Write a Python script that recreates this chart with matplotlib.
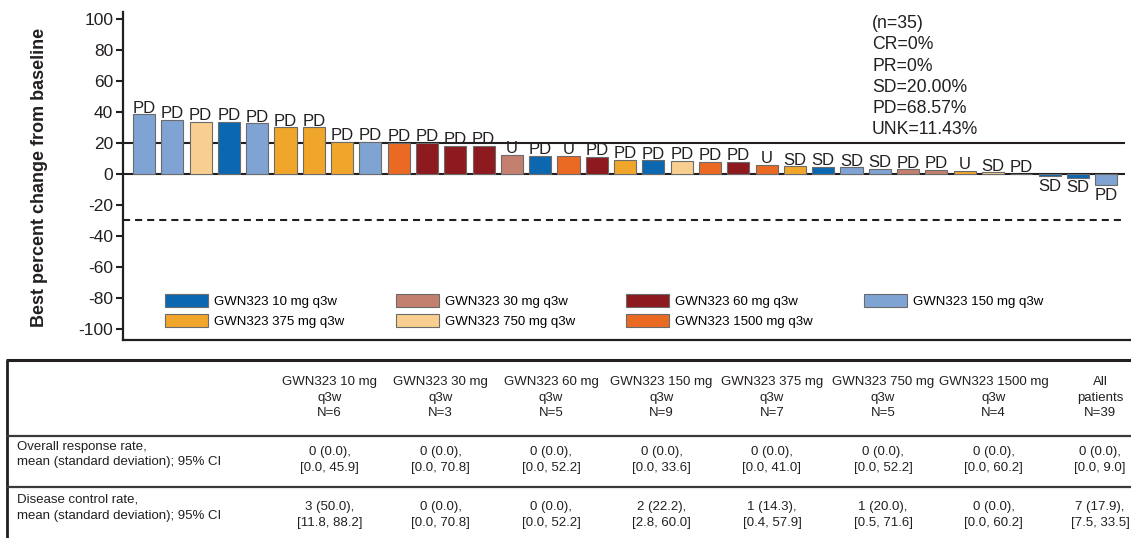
import matplotlib
matplotlib.use('Agg')
import matplotlib.pyplot as plt
from matplotlib.patches import Patch

plt.rcParams['font.family'] = ['Liberation Sans', 'DejaVu Sans']
plt.rcParams['axes.unicode_minus'] = False

# ---------------- data ----------------
dose_groups = ['GWN323 10 mg q3w', 'GWN323 30 mg q3w', 'GWN323 60 mg q3w',
               'GWN323 150 mg q3w', 'GWN323 375 mg q3w', 'GWN323 750 mg q3w',
               'GWN323 1500 mg q3w']
group_colors = ['#0a67b0', '#c4806f', '#8c1a1f', '#7fa4d4', '#f0a62a', '#f8cf90', '#ea6a24']

best_change = [38.3, 34.8, 33.4, 33.4, 32.5, 29.9, 29.9, 20.4, 20.4, 19.8,
               19.8, 17.9, 17.9, 12.1, 11.5, 11.5, 10.8, 8.8, 8.7, 8.4,
               7.7, 7.7, 5.6, 4.7, 4.3, 4.1, 3.0, 2.9, 2.6, 1.7,
               0.9, 0.0, -1.8, -2.5, -7.2]
bar_group = [3, 3, 5, 0, 3, 4, 4, 4, 3, 6,
             2, 2, 2, 1, 0, 6, 2, 4, 0, 5,
             6, 2, 6, 4, 0, 3, 3, 1, 1, 4,
             5, 3, 0, 0, 3]
best_response = ['PD', 'PD', 'PD', 'PD', 'PD', 'PD', 'PD', 'PD', 'PD', 'PD',
                 'PD', 'PD', 'PD', 'U', 'PD', 'U', 'PD', 'PD', 'PD', 'PD',
                 'PD', 'PD', 'U', 'SD', 'SD', 'SD', 'SD', 'PD', 'PD', 'U',
                 'SD', 'PD', 'SD', 'SD', 'PD']

summary_lines = ['(n=35)', 'CR=0%', 'PR=0%', 'SD=20.00%', 'PD=68.57%', 'UNK=11.43%']
y_ticks = [100, 80, 60, 40, 20, 0, -20, -40, -60, -80, -100]
progression_level = 20
response_level = -30
y_label = 'Best percent change from baseline'

table_headers = [('GWN323 10 mg', 'q3w', 'N=6'), ('GWN323 30 mg', 'q3w', 'N=3'),
                 ('GWN323 60 mg', 'q3w', 'N=5'), ('GWN323 150 mg', 'q3w', 'N=9'),
                 ('GWN323 375 mg', 'q3w', 'N=7'), ('GWN323 750 mg', 'q3w', 'N=5'),
                 ('GWN323 1500 mg', 'q3w', 'N=4'), ('All', 'patients', 'N=39')]
row_labels = [('Overall response rate,', 'mean (standard deviation); 95% CI'),
              ('Disease control rate,', 'mean (standard deviation); 95% CI')]
orr_values = [('0 (0.0),', '[0.0, 45.9]'), ('0 (0.0),', '[0.0, 70.8]'),
              ('0 (0.0),', '[0.0, 52.2]'), ('0 (0.0),', '[0.0, 33.6]'),
              ('0 (0.0),', '[0.0, 41.0]'), ('0 (0.0),', '[0.0, 52.2]'),
              ('0 (0.0),', '[0.0, 60.2]'), ('0 (0.0),', '[0.0, 9.0]')]
dcr_values = [('3 (50.0),', '[11.8, 88.2]'), ('0 (0.0),', '[0.0, 70.8]'),
              ('0 (0.0),', '[0.0, 52.2]'), ('2 (22.2),', '[2.8, 60.0]'),
              ('1 (14.3),', '[0.4, 57.9]'), ('1 (20.0),', '[0.5, 71.6]'),
              ('0 (0.0),', '[0.0, 60.2]'), ('7 (17.9),', '[7.5, 33.5]')]

# ---------------- layout ----------------
W, H, DPI = 1131, 538, 100
INK = '#231f20'
fig = plt.figure(figsize=(W / DPI, H / DPI), dpi=DPI)

ax_left, ax_top, ax_bottom = 123, 11.7, 340
ax = fig.add_axes([ax_left / W, 1 - ax_bottom / H, (W - ax_left) / W, (ax_bottom - ax_top) / H])

n = len(best_change)
xs = list(range(n))
colors = [group_colors[g] for g in bar_group]
ax.bar(xs, best_change, width=0.78, color=colors, edgecolor='#6b6b6b', linewidth=0.8, zorder=3)

x_lo, x_hi = -0.742, 34.876
ax.set_xlim(x_lo, x_hi)
ax.set_ylim(-107.3, 104.5)
line_end = 34.67
ax.hlines([0, progression_level], x_lo, line_end, colors=INK, linewidth=1.5, zorder=2)
ax.hlines([response_level], x_lo, line_end, colors=INK, linewidth=1.5,
          linestyles=[(0, (3.4, 2.4))], zorder=2)

for x, v, lab in zip(xs, best_change, best_response):
    if v >= 0:
        ax.annotate(lab, (x, v), xytext=(0, 1.2), textcoords='offset points',
                    ha='center', va='baseline', fontsize=12, color=INK, zorder=4)
    else:
        ax.annotate(lab, (x, v), xytext=(0, -2.0), textcoords='offset points',
                    ha='center', va='top', fontsize=12, color=INK, zorder=4)

for s in ['top', 'right']:
    ax.spines[s].set_visible(False)
for s in ['left', 'bottom']:
    ax.spines[s].set_linewidth(1.6)
    ax.spines[s].set_color(INK)
ax.set_xticks([])
ax.set_yticks(y_ticks)
ax.tick_params(axis='y', labelsize=12.5, length=5, width=1.5, pad=2, colors=INK)
ax.set_ylabel(y_label, fontsize=13, fontweight='bold', color=INK)
ax.yaxis.set_label_coords((48 - ax_left) / (W - ax_left), 0.495)

# legend
order = [0, 4, 1, 5, 2, 6, 3]
handles = [Patch(facecolor=group_colors[i], edgecolor='#6b6b6b', linewidth=0.8,
                 label=dose_groups[i]) for i in order]
ax.legend(handles=handles, ncol=4, loc='upper left', frameon=False,
          bbox_to_anchor=(165 / W, 1 - 294 / H), bbox_transform=fig.transFigure,
          fontsize=9.5, handlelength=3.26, handleheight=1.14, labelspacing=0.45,
          handletextpad=0.45, columnspacing=3.9, borderpad=0, borderaxespad=0)

fig.text(872 / W, 1 - 15 / H, '\n'.join(summary_lines), fontsize=12.7, color=INK,
         ha='left', va='top', linespacing=1.33)

# ---------------- table ----------------
tax = fig.add_axes([0, 0, 1, (H - 350) / H])
tax.set_xlim(0, W)
tax.set_ylim(H, 350)
tax.axis('off')

tax.hlines([360], 6, W, colors=INK, linewidth=2.2)
tax.vlines([7], 360, H, colors=INK, linewidth=2.0)
tax.hlines([436, 486.5], 6, W, colors='#3a3a3a', linewidth=1.6)

col_centers = [329.5, 440.5, 551, 661.5, 772, 883, 993.5, 1100]
fs = 9.5
for cx, (a, b, c) in zip(col_centers, table_headers):
    for yy, s in zip([382, 397.5, 413], [a, b, c]):
        tax.text(cx, yy, s, ha='center', va='center', fontsize=fs, color=INK)

for (l1, l2), yy in zip(row_labels, [(447, 462.5), (500, 515.5)]):
    tax.text(17, yy[0], l1, ha='left', va='center', fontsize=fs, color=INK)
    tax.text(17, yy[1], l2, ha='left', va='center', fontsize=fs, color=INK)

for vals, yy in zip([orr_values, dcr_values], [(452, 468), (507, 523)]):
    for cx, (a, b) in zip(col_centers, vals):
        tax.text(cx, yy[0], a, ha='center', va='center', fontsize=fs, color=INK)
        tax.text(cx, yy[1], b, ha='center', va='center', fontsize=fs, color=INK)

fig.savefig('out.png', dpi=DPI)
